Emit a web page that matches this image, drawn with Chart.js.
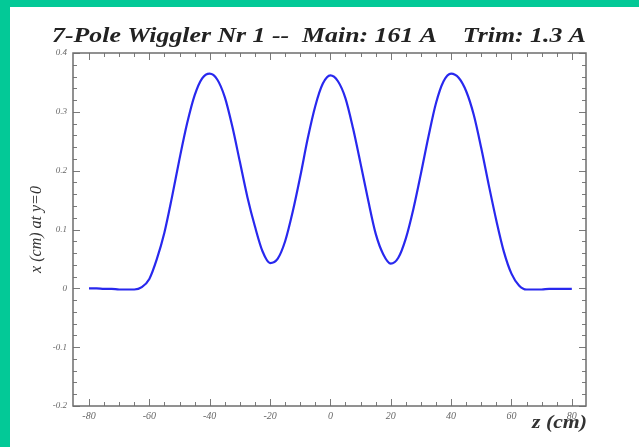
<!DOCTYPE html>
<html>
<head>
<meta charset="utf-8">
<script src="https://cdn.jsdelivr.net/npm/chart.js@4"></script>
<style>
    html, body { margin: 0; padding: 0; }
    body { width: 639px; height: 447px; background: #03c997; position: relative; overflow: hidden; }
    #wrap { position: absolute; left: 10px; top: 7px; width: 629px; height: 440px; background: #ffffff; }
</style>
</head>
<body>
<div id="wrap"><canvas id="chart" width="629" height="440"></canvas></div>
<script>
// wiggler orbit data
const zPos = [-80, -77.5, -75, -72.5, -70, -67.5, -65, -62.5, -60, -57.5, -55, -52.5, -50, -47.5, -45, -42.5,
    -40, -37.5, -35, -32.5, -30, -27.5, -25, -22.5, -20, -17.5, -15, -12.5, -10, -7.5, -5, -2.5,
    0, 2.5, 5, 7.5, 10, 12.5, 15, 17.5, 20, 22.5, 25, 27.5, 30, 32.5, 35, 37.5,
    40, 42.5, 45, 47.5, 50, 52.5, 55, 57.5, 60, 62.5, 65, 67.5, 70, 72.5, 75, 77.5, 80];
const xOrbit = [0.000, 0.000, -0.001, -0.001, -0.002, -0.002, -0.002, 0.002, 0.016, 0.050, 0.095, 0.155, 0.220, 0.280, 0.328, 0.357,
    0.365, 0.355, 0.325, 0.275, 0.215, 0.155, 0.105, 0.063, 0.043, 0.050, 0.080, 0.130, 0.190, 0.255, 0.310, 0.348,
    0.362, 0.352, 0.323, 0.272, 0.212, 0.150, 0.093, 0.058, 0.042, 0.052, 0.085, 0.135, 0.195, 0.258, 0.315, 0.352,
    0.365, 0.358, 0.335, 0.295, 0.238, 0.175, 0.115, 0.062, 0.025, 0.005, -0.002, -0.002, -0.002, -0.001, -0.001, -0.001, -0.001];

const xTicks = [-80, -60, -40, -20, 0, 20, 40, 60, 80];
const yTicks = [-0.2, -0.1, 0, 0.1, 0.2, 0.3, 0.4];
const xMinorStep = 5;
const yMinorStep = 0.02;

const titleText = '7-Pole Wiggler Nr 1 --  Main: 161 A    Trim: 1.3 A';
const xTitleText = 'z (cm)';

const serif = "'Liberation Serif', 'DejaVu Serif', serif";

// the original texts are stretched sideways, so draw them scaled to their width
function wideText(ctx, text, font, x, y, width, align) {
    ctx.save();
    ctx.font = font;
    const sx = width / ctx.measureText(text).width;
    ctx.textBaseline = 'middle';
    ctx.textAlign = 'left';
    const left = align === 'right' ? x - width : x - width / 2;
    ctx.translate(left, y);
    ctx.scale(sx, 1);
    ctx.fillText(text, 0, 0);
    ctx.restore();
}

// frame with inward ticks on all four sides, plus title texts
const framePlugin = {
    id: 'frame',
    afterDraw(chart) {
        const ctx = chart.ctx;
        const a = chart.chartArea;
        const xs = chart.scales.x;
        const ys = chart.scales.y;
        ctx.save();
        ctx.strokeStyle = '#7a7a7a';
        ctx.lineWidth = 1;
        ctx.beginPath();
        for (let v = -80; v <= 80.001; v += xMinorStep) {
            const px = Math.round(xs.getPixelForValue(v)) + 0.5;
            const len = (Math.abs(v % 20) < 0.001) ? 7 : 4;
            ctx.moveTo(px, a.bottom); ctx.lineTo(px, a.bottom - len);
            ctx.moveTo(px, a.top); ctx.lineTo(px, a.top + len);
        }
        for (let i = 0; i <= 30; i++) {
            const v = -0.2 + i * yMinorStep;
            const py = Math.round(ys.getPixelForValue(v)) + 0.5;
            const len = (i % 5 === 0) ? 7 : 4;
            ctx.moveTo(a.left, py); ctx.lineTo(a.left + len, py);
            ctx.moveTo(a.right, py); ctx.lineTo(a.right - len, py);
        }
        ctx.stroke();
        ctx.lineWidth = 1.5;
        ctx.strokeStyle = '#6e6e6e';
        ctx.strokeRect(a.left, a.top, a.right - a.left, a.bottom - a.top);

        ctx.fillStyle = '#222';
        wideText(ctx, titleText, 'italic bold 20px ' + serif, 309, 30, 534, 'center');
        ctx.fillStyle = '#333';
        wideText(ctx, xTitleText, 'italic bold 18px ' + serif, a.right + 1, 416, 55, 'right');
        ctx.restore();
    }
};

const ctx = document.getElementById('chart').getContext('2d');
new Chart(ctx, {
    type: 'line',
    data: {
        datasets: [{
            data: zPos.map((z, i) => ({ x: z, y: xOrbit[i] })),
            borderColor: '#2828ee',
            borderWidth: 2.2,
            pointRadius: 0,
            cubicInterpolationMode: 'monotone',
            fill: false
        }]
    },
    options: {
        responsive: false,
        animation: false,
        layout: { padding: { left: 0, right: 53, top: 46, bottom: 0 } },
        plugins: {
            legend: { display: false },
            tooltip: { enabled: false }
        },
        scales: {
            x: {
                type: 'linear',
                min: -85.3,
                max: 84.7,
                afterBuildTicks: s => { s.ticks = xTicks.map(v => ({ value: v })); },
                afterFit: s => { s.height = 41; },
                grid: { display: false, drawTicks: false },
                border: { display: false },
                ticks: {
                    padding: 4,
                    maxRotation: 0,
                    color: '#666',
                    font: { family: serif, size: 10, style: 'italic' }
                }
            },
            y: {
                min: -0.2,
                max: 0.4,
                afterBuildTicks: s => { s.ticks = yTicks.map(v => ({ value: v })); },
                afterFit: s => { s.width = 63; },
                grid: { display: false, drawTicks: false },
                border: { display: false },
                ticks: {
                    padding: 6,
                    color: '#666',
                    font: { family: serif, size: 9, style: 'italic' },
                    callback: v => String(Math.round(v * 10) / 10)
                },
                title: {
                    display: true,
                    text: 'x (cm) at y=0',
                    color: '#333',
                    font: { family: serif, size: 16, style: 'italic' },
                    padding: { top: 17, bottom: 0 }
                }
            }
        }
    },
    plugins: [framePlugin]
});
</script>
</body>
</html>
